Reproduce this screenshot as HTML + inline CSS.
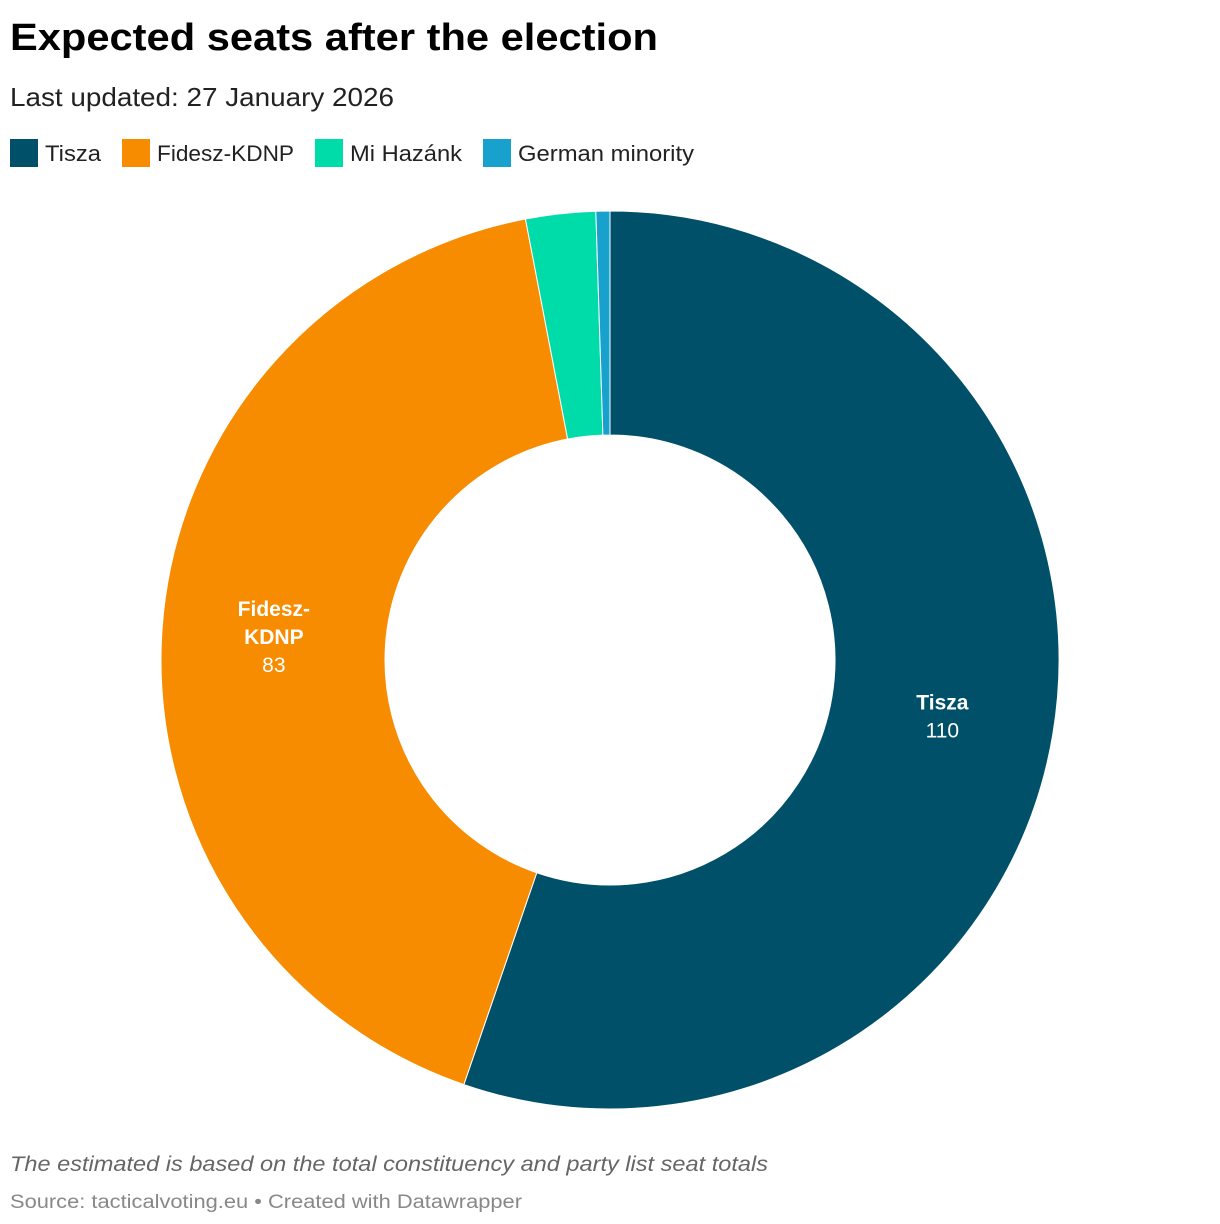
<!DOCTYPE html>
<html><head><meta charset="utf-8"><style>
html,body{margin:0;padding:0;background:#fff;}
svg{display:block;font-family:"Liberation Sans",sans-serif;}
</style></head><body>
<svg id="chart" width="1220" height="1224" viewBox="0 0 1220 1224" xmlns="http://www.w3.org/2000/svg">
<text x="10" y="50" font-size="38" font-weight="bold" fill="#000" textLength="648" lengthAdjust="spacingAndGlyphs">Expected seats after the election</text>
<text x="10" y="106" font-size="26" fill="#222" textLength="384" lengthAdjust="spacingAndGlyphs">Last updated: 27 January 2026</text>
<g id="legend"></g>
<g id="slices"></g>
<g id="labels"></g>
<text x="10" y="1171" font-size="21" font-style="italic" fill="#666" textLength="758" lengthAdjust="spacingAndGlyphs">The estimated is based on the total constituency and party list seat totals</text>
<text x="10" y="1208" font-size="19" fill="#888" textLength="512" lengthAdjust="spacingAndGlyphs">Source: tacticalvoting.eu • Created with Datawrapper</text>
</svg>
<script>
const categories = ["Tisza","Fidesz-KDNP","Mi Hazánk","German minority"];
const values = [110,83,5,1];
const colors = ["#00506a","#f88c00","#00dbaa","#18a1cd"];
const showLabel = [true,true,false,false];
const labelLines = [["Tisza"],["Fidesz-","KDNP"],["Mi Hazánk"],["German minority"]];
const legendX = [10,122,315,483];
const legendTextW = [56,137,112,176];

const NS="http://www.w3.org/2000/svg";
const cx=610, cy=660, R=449, r=225;
const total=values.reduce((a,b)=>a+b,0);
function angle(v){return v/total*2*Math.PI;}
function pt(a,rad){return [cx+rad*Math.sin(a), cy-rad*Math.cos(a)];}

const lg=document.getElementById('legend');
categories.forEach((c,i)=>{
  const rc=document.createElementNS(NS,'rect');
  rc.setAttribute('x',legendX[i]);rc.setAttribute('y',139);rc.setAttribute('width',28);rc.setAttribute('height',28);rc.setAttribute('fill',colors[i]);
  
  
  lg.appendChild(rc);
  const t=document.createElementNS(NS,'text');
  t.setAttribute('x',legendX[i]+35);t.setAttribute('y',161);t.setAttribute('font-size',22);t.setAttribute('fill','#222');
  t.setAttribute('textLength',legendTextW[i]);t.setAttribute('lengthAdjust','spacingAndGlyphs');
  t.textContent=c;
  
  
  lg.appendChild(t);
});

const sg=document.getElementById('slices'), lb=document.getElementById('labels');
let acc=0;
values.forEach((v,i)=>{
  const a0=angle(acc), a1=angle(acc+v); acc+=v;
  const large=(a1-a0)>Math.PI?1:0;
  const p0=pt(a0,R),p1=pt(a1,R),q1=pt(a1,r),q0=pt(a0,r);
  const d=`M${p0[0]},${p0[1]} A${R},${R} 0 ${large} 1 ${p1[0]},${p1[1]} L${q1[0]},${q1[1]} A${r},${r} 0 ${large} 0 ${q0[0]},${q0[1]} Z`;
  const p=document.createElementNS(NS,'path');
  p.setAttribute('d',d);p.setAttribute('fill',colors[i]);p.setAttribute('stroke','#fff');p.setAttribute('stroke-width',1);
  
  
  sg.appendChild(p);
  if(showLabel[i]){
    const m=pt((a0+a1)/2,(R+r)/2);
    const lines=labelLines[i];
    const n=lines.length+1, lh=28;
    const y0=m[1]-(n-1)*lh/2+8;
    lines.forEach((ln,j)=>{
      const t=document.createElementNS(NS,'text');
      t.setAttribute('x',m[0]);t.setAttribute('y',y0+j*lh);t.setAttribute('text-anchor','middle');
      t.setAttribute('font-size',21);t.setAttribute('font-weight','bold');t.setAttribute('fill','#fff');
      t.textContent=ln;
      
      
      lb.appendChild(t);
    });
    const t=document.createElementNS(NS,'text');
    t.setAttribute('x',m[0]);t.setAttribute('y',y0+lines.length*lh);t.setAttribute('text-anchor','middle');
    t.setAttribute('font-size',21);t.setAttribute('fill','#fff');
    t.textContent=v;
    
    
    lb.appendChild(t);
  }
});
</script>
</body></html>
